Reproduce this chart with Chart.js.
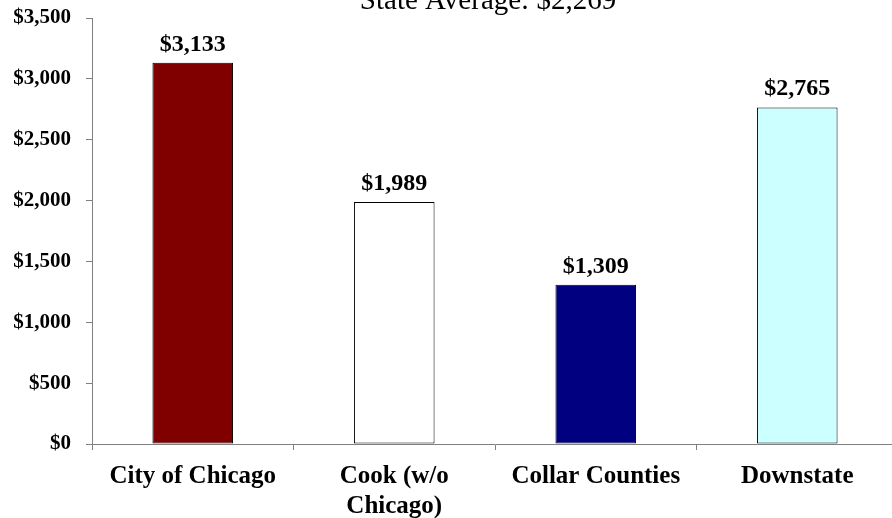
<!DOCTYPE html>
<html>
<head>
<meta charset="utf-8">
<script src="https://cdn.jsdelivr.net/npm/chart.js@4/dist/chart.umd.min.js"></script>
<style>
  html, body { margin: 0; padding: 0; background: #fff; overflow: hidden; }
  #wrap { position: relative; width: 892px; height: 518px; overflow: hidden; }
  canvas { display: block; }
</style>
</head>
<body>
<div id="wrap"><canvas id="chart" width="900" height="518"></canvas></div>
<script>
// ─── Data ────────────────────────────────────────────────────────────
const categories = ['City of Chicago', ['Cook (w/o', 'Chicago)'], 'Collar Counties', 'Downstate'];
const costs = [3133, 1989, 1309, 2765];
const barColors = ['#800000', '#ffffff', '#000080', '#ccffff'];
const yTicks = [0, 500, 1000, 1500, 2000, 2500, 3000, 3500];
const titleText = 'State Average: $2,269';

const SERIF = "'Liberation Serif', 'Times New Roman', serif";
const money = v => '$' + v.toLocaleString('en-US');

// title sits half off the top edge, like the cropped original
const titlePlugin = {
    id: 'cutTitle',
    afterDraw(chart) {
        const ctx = chart.ctx;
        ctx.save();
        ctx.font = '29px ' + SERIF;
        ctx.fillStyle = '#000';
        ctx.textAlign = 'center';
        ctx.textBaseline = 'alphabetic';
        ctx.fillText(titleText, 488, 9);
        ctx.restore();
    }
};

// value labels above each bar
const valueLabels = {
    id: 'valueLabels',
    afterDatasetsDraw(chart) {
        const ctx = chart.ctx;
        const meta = chart.getDatasetMeta(0);
        ctx.save();
        ctx.font = 'bold 24px ' + SERIF;
        ctx.fillStyle = '#000';
        ctx.textAlign = 'center';
        ctx.textBaseline = 'alphabetic';
        meta.data.forEach((bar, i) => {
            ctx.fillText(money(costs[i]), bar.x, bar.y - 12);
        });
        ctx.restore();
    }
};

new Chart(document.getElementById('chart'), {
    type: 'bar',
    data: {
        labels: categories,
        datasets: [{
            data: costs,
            backgroundColor: barColors,
            borderColor: '#000',
            borderWidth: 1,
            borderSkipped: false,
            barPercentage: 0.4,
            categoryPercentage: 1.0
        }]
    },
    options: {
        responsive: false,
        animation: false,
        devicePixelRatio: 1,
        layout: { padding: { top: 18, right: 2, left: 0, bottom: 0 } },
        plugins: {
            legend: { display: false },
            tooltip: { enabled: false },
            title: { display: false }
        },
        scales: {
            y: {
                min: 0,
                max: 3500,
                afterBuildTicks: s => { s.ticks = yTicks.map(v => ({ value: v })); },
                afterFit: s => { s.width = 92; s.paddingTop = 0; s.paddingBottom = 0; },
                ticks: {
                    color: '#000',
                    padding: 15,
                    font: { family: SERIF, size: 21, weight: 'bold' },
                    callback: v => money(v)
                },
                grid: { drawOnChartArea: false, tickLength: 6, tickColor: '#808080' },
                border: { color: '#808080', width: 1 }
            },
            x: {
                afterFit: s => { s.height = 74; },
                ticks: {
                    color: '#000',
                    padding: 12,
                    maxRotation: 0,
                    autoSkip: false,
                    font: { family: SERIF, size: 25, weight: 'bold', lineHeight: 1.2 }
                },
                grid: { drawOnChartArea: false, offset: true, tickLength: 6, tickColor: '#808080' },
                border: { color: '#808080', width: 1 }
            }
        }
    },
    plugins: [titlePlugin, valueLabels]
});
</script>
</body>
</html>
